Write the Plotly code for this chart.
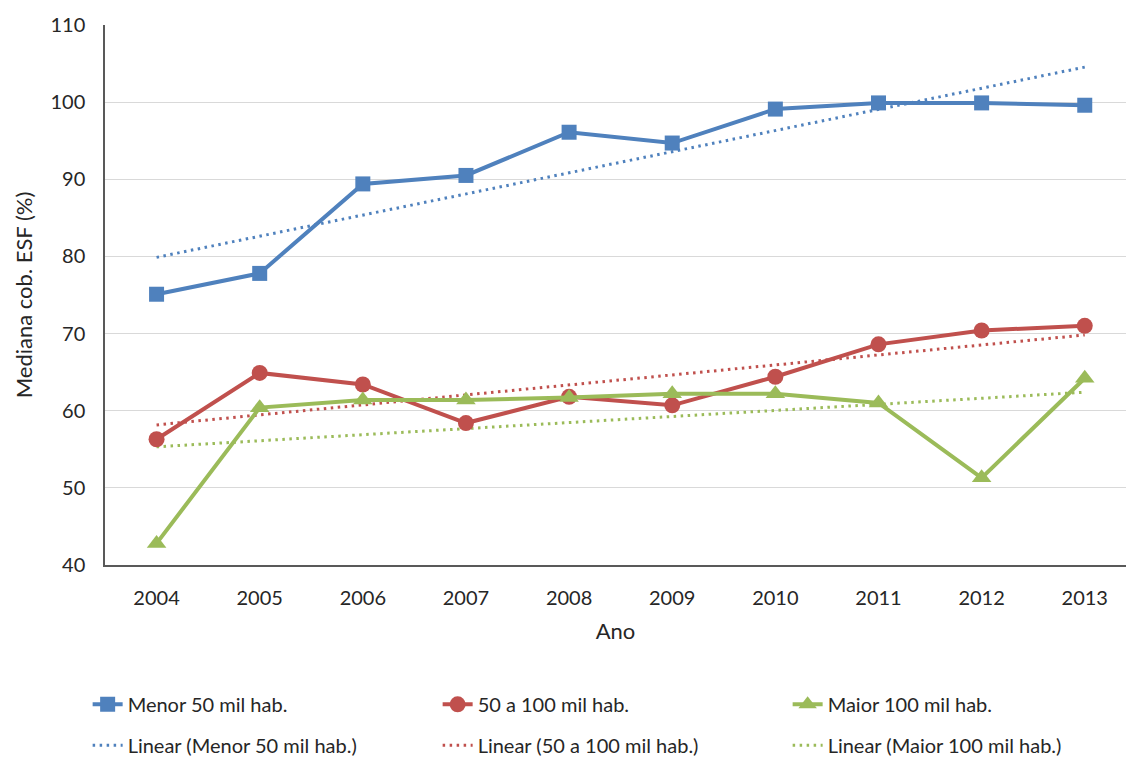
import numpy as np
import plotly.graph_objects as go

# Median ESF coverage (%) by municipality population size
anos = ["2004", "2005", "2006", "2007", "2008", "2009", "2010", "2011", "2012", "2013"]
menor_50 = [75.1, 77.8, 89.4, 90.5, 96.1, 94.7, 99.1, 99.9, 99.9, 99.6]
de_50_a_100 = [56.3, 64.9, 63.4, 58.4, 61.8, 60.7, 64.4, 68.6, 70.4, 71.0]
maior_100 = [42.8, 60.4, 61.4, 61.4, 61.7, 62.2, 62.2, 61.0, 51.3, 64.2]

nomes = ["Menor 50 mil hab.", "50 a 100 mil hab.", "Maior 100 mil hab."]
series = [menor_50, de_50_a_100, maior_100]
cores = ["#4F81BD", "#C0504D", "#9BBB59"]
simbolos = ["square", "circle", "triangle-up"]
tamanhos = [15, 16, 17]

FONT = "Lato, Open Sans, sans-serif"
fig = go.Figure()

idx = np.arange(len(anos))

# Linear trend (least squares) for each series
for i, (nome, vals, cor) in enumerate(zip(nomes, series, cores)):
    a, b = np.polyfit(idx, vals, 1)
    trend = a * idx + b
    fig.add_trace(go.Scatter(
        x=anos, y=trend, mode="lines", name=f"Linear ({nome})",
        line=dict(color=cor, width=3, dash="2.5px,4.5px"),
        legend="legend2", legendrank=10 + i, hoverinfo="skip",
    ))

for i, (nome, vals, cor, sym, sz) in enumerate(zip(nomes, series, cores, simbolos, tamanhos)):
    fig.add_trace(go.Scatter(
        x=anos, y=vals, mode="lines+markers", name=nome,
        line=dict(color=cor, width=4),
        marker=dict(symbol=sym, size=sz, color=cor),
        legend="legend", legendrank=i,
    ))

legend_common = dict(
    orientation="h", xanchor="left", yanchor="middle",
    font=dict(family=FONT, size=20, color="#262626"),
    entrywidth=305, entrywidthmode="pixels", itemwidth=30,
    bgcolor="rgba(0,0,0,0)", traceorder="normal",
)

fig.update_layout(
    width=1126, height=760,
    margin=dict(l=105, r=0, t=25, b=195, autoexpand=False),
    paper_bgcolor="white", plot_bgcolor="white",
    font=dict(family=FONT, size=20, color="#262626"),
    xaxis=dict(
        type="category", range=[-0.5, 9.4],
        showgrid=False, showline=True, linecolor="#595959", linewidth=1.5,
        ticks="", tickfont=dict(size=20), ticklabelstandoff=14,
        title=dict(text="Ano", font=dict(size=22), standoff=16),
    ),
    yaxis=dict(
        range=[40, 110], dtick=10, showgrid=True, gridcolor="#D9D9D9",
        gridwidth=1, showline=True, linecolor="#595959", linewidth=1.5,
        ticks="", zeroline=False, tickfont=dict(size=20), ticklabelstandoff=14,
        title=dict(text="Mediana cob. ESF (%)", font=dict(size=22), standoff=12),
    ),
    legend=dict(x=-0.017, y=-0.258, **legend_common),
    legend2=dict(x=-0.017, y=-0.334, **legend_common),
    showlegend=True,
)

fig.write_html("out.html")
